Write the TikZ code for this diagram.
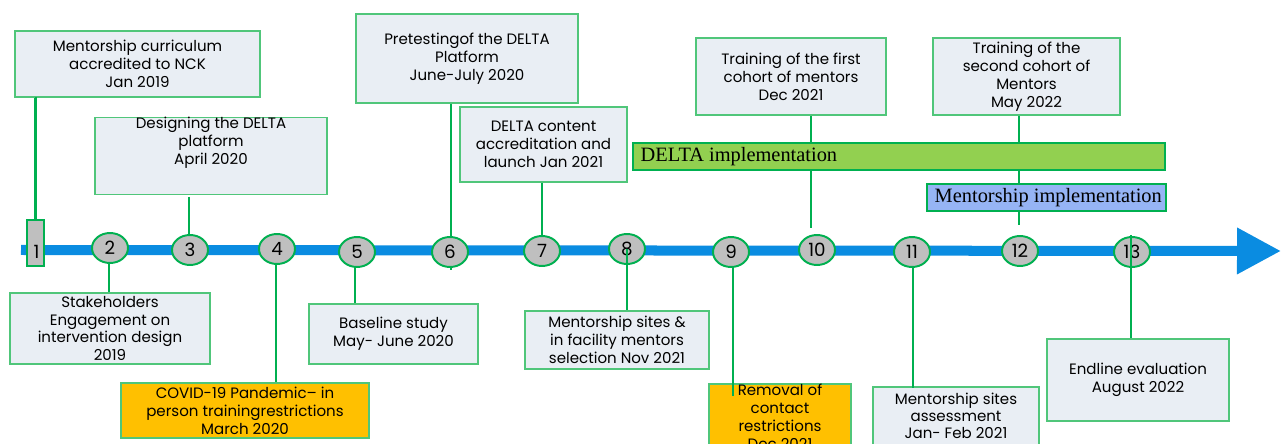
\documentclass[tikz,border=0pt]{standalone}
\usepackage{fontspec}
\setmainfont{Poppins}
\newfontfamily\barfont{Liberation Serif}
\usetikzlibrary{shapes.geometric,arrows.meta}

\definecolor{linkgreen}{RGB}{0,176,80}
\definecolor{edgegreen}{RGB}{80,198,122}
\definecolor{boxfill}{RGB}{233,238,244}
\definecolor{alertfill}{RGB}{255,192,0}
\definecolor{stopgray}{RGB}{191,191,191}
\definecolor{phasegreen}{RGB}{146,208,80}
\definecolor{phaseblue}{RGB}{150,180,245}
\definecolor{timeblue}{RGB}{10,140,225}

\begin{document}
\begin{tikzpicture}[x={(0.025cm,0)},y={(0,-0.025cm)},
        dims/.style 2 args={minimum width=#1*0.025cm,minimum height=#2*0.025cm},
        event/.style={draw=edgegreen,line width=1.3pt,fill=boxfill,align=center,
            inner sep=0pt,font=\fontsize{10.7}{12.7}\selectfont},
        alert/.style={event,fill=alertfill},
        stop/.style={ellipse,draw=linkgreen,line width=1.4pt,fill=stopgray,
            inner sep=0pt,minimum width=0.9cm,minimum height=0.75cm,
            font=\fontsize{13}{13}\selectfont},
        link/.style={draw=linkgreen,line width=2.1pt},
        phase/.style={draw=linkgreen,line width=1.3pt,anchor=west,inner sep=0pt},
        phase text/.style={anchor=west,inner xsep=6pt,
            font=\barfont\fontsize{14.5}{14.5}\selectfont}]
    \useasboundingbox (0,0) rectangle (1281,444);
    \clip (0,0) rectangle (1281,444);

    % event boxes above the line
    \node[event,dims={245}{66}] (curric) at (137.5,64) {Mentorship curriculum\\accredited to NCK\\Jan 2019};
    \node[event,dims={232}{66}] (design) at (211,156) {Designing the DELTA\\platform\\April 2020\\[0.8em]};
    \node[event,dims={222}{89}] (pretest) at (467,58.5) {Pretestingof the DELTA\\Platform\\June-July 2020};
    \node[event,dims={167}{75}] (launch) at (543.5,144.5) {DELTA content\\accreditation and\\launch Jan 2021};
    \node[event,dims={190}{77}] (cohort1) at (791,76.5) {Training of the first\\cohort of mentors\\Dec 2021};
    \node[event,dims={187}{77}] (cohort2) at (1026.5,76.5) {Training of the\\second cohort of\\Mentors\\May 2022};

    % event boxes below the line
    \node[event,dims={200}{71}] (stake) at (110,328.5) {Stakeholders\\Engagement on\\intervention design\\2019};
    \node[alert,dims={248}{55}] (covid) at (245,410.5) {COVID-19 Pandemic-- in\\person trainingrestrictions\\March 2020};
    \node[event,dims={169}{60}] (baseline) at (393.5,334) {Baseline study\\May- June 2020};
    \node[event,dims={184}{58}] (sites) at (617,340) {Mentorship sites \&\\in facility mentors\\selection Nov 2021};
    \node[alert,dims={142}{66}] (removal) at (780,417) {Removal of\\contact\\restrictions\\Dec 2021};
    \node[event,dims={166}{58},font=\fontsize{10.7}{12}\selectfont] (assess) at (956,416) {Mentorship sites\\assessment\\Jan- Feb 2021};
    \node[event,dims={182}{82}] (endline) at (1138,380) {Endline evaluation\\August 2022};

    % free ends of the short links
    \coordinate (d3) at (189,197);
    \coordinate (c6) at (451,270);
    \coordinate (c10) at (811,228);
    \coordinate (c12) at (1019,225);

    % links behind the line and the bars
    \draw[link] (36,243) -- (36,97);
    \draw[link] (109,250) -- (109,250 |- stake.north);
    \draw[link] (d3) -- (189,250);
    \draw[link] (276,250) -- (276,250 |- covid.north);
    \draw[link] (355,252) -- (355,252 |- baseline.north);
    \draw[link] (451,0 |- pretest.south) -- (c6);
    \draw[link] (542,0 |- launch.south) -- (542,251);
    \draw[link] (733,252) -- (733,396);
    \draw[link] (811,0 |- cohort1.south) -- (c10);
    \draw[link] (913,252) -- (913,388);
    \draw[link] (1019,0 |- cohort2.south) -- (c12);

    % phases
    \node[phase,fill=phasegreen,dims={532}{27}] (deltaimp) at (632,156.5) {};
    \node[phase text] at (deltaimp.west) {DELTA implementation};
    \node[phase,fill=phaseblue,dims={239}{27}] (mentorimp) at (926,197.5) {};
    \node[phase text] at (mentorimp.west) {Mentorship implementation};

    % time line
    \draw[timeblue,line width=0.25cm,-{Triangle[length=1.1cm,width=1.1cm]}] (21,250) -- (1281,251);

    % stops
    \node[draw=linkgreen,line width=1.4pt,fill=stopgray,minimum width=0.425cm,
        minimum height=1.15cm,inner sep=0pt] (m1) at (35.5,243) {};
    \node[font=\fontsize{13}{13}\selectfont] at (36.5,252) {1};
    \node[stop] (s2) at (110,248) {2};
    \node[stop] (s3) at (190,250) {3};
    \node[stop] (s4) at (277,249) {4};
    \node[stop] (s5) at (357,252) {5};
    \node[stop] (s6) at (450,252) {6};
    \node[stop] (s7) at (542,251) {7};
    \node[stop] (s8) at (627,249) {8};
    \node[stop] (s9) at (731,252) {9};
    \node[stop] (s10) at (817,250) {10};
    \node[stop] (s11) at (912,252) {11};
    \node[stop] (s12) at (1020,251) {12};
    \node[stop] (s13) at (1132,252) {13};

    % links drawn over the stops
    \draw[link] (s8.center) -- (s8 |- sites.north);
    \draw[link] (1131,235) -- (1131,0 |- endline.north);
    \draw[link] (m1.north) -- (m1.north |- curric.south);
\end{tikzpicture}
\end{document}
